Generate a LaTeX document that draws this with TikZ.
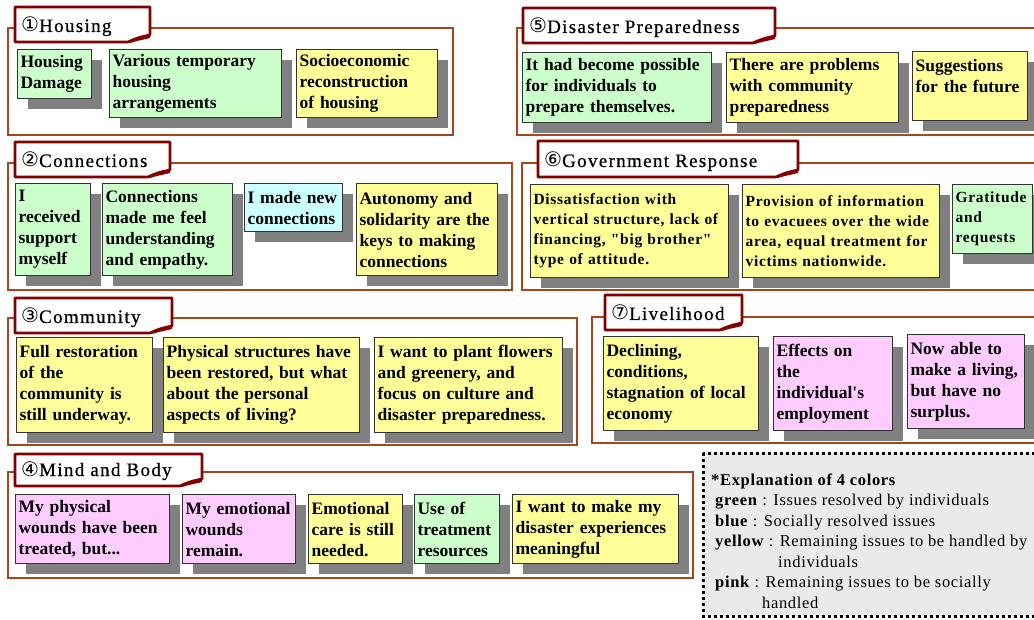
\documentclass[tikz,border=0pt]{standalone}
\usepackage{fontspec}
\setmainfont{Liberation Serif}[Ligatures=TeXOff]
\newfontfamily\symfont{DejaVu Sans}
\usetikzlibrary{shadows}
\definecolor{cgreen}{HTML}{CCFFCC}
\definecolor{cblue}{HTML}{CCFFFF}
\definecolor{cyellow}{HTML}{FFFF99}
\definecolor{cpink}{HTML}{FFCCFF}
\definecolor{framec}{RGB}{168,70,25}
\definecolor{tabc}{RGB}{130,0,0}
\definecolor{shadowc}{RGB}{128,128,128}
\definecolor{legendc}{RGB}{234,234,234}
\tikzset{
  secframe/.style={draw=framec, line width=2pt},
  tabshape/.style={fill=white, draw=tabc, line width=2.6pt, line join=round},
  tabcurl/.style={fill=tabc},
  titletext/.style={font=\fontsize{19}{22}\selectfont\addfontfeature{LetterSpace=7,FakeBold=0.6}, inner sep=0pt, anchor=base west},
  notebox/.style={draw=black!80, line width=1.2pt, anchor=north west, inner xsep=3pt, inner ysep=2pt, align=left,
    font=\fontsize{17.5}{21}\selectfont\bfseries,
    drop shadow={shadow xshift=10pt, shadow yshift=-10pt, fill=shadowc, opacity=1}},
  govnote/.style={font=\fontsize{15.5}{20}\selectfont\bfseries\addfontfeature{LetterSpace=4.5}},
  legendbox/.style={fill=legendc, draw=black, line width=3pt, dash pattern=on 3pt off 3pt},
  legendtext/.style={font=\fontsize{16.5}{20.5}\selectfont\addfontfeature{LetterSpace=4}, inner sep=0pt, anchor=north west, align=left}
}
\newcommand{\notecard}[8][]{%
  \pgfmathsetmacro{\ncW}{#5-#3}%
  \pgfmathsetmacro{\ncH}{#6-#4}%
  \pgfmathsetmacro{\ncT}{#5-#3-6}%
  \node[notebox, fill=#7, minimum width=\ncW pt, minimum height=\ncH pt, text width=\ncT pt, #1] (#2) at (#3,#4) {#8};}
\newcommand{\tabtitle}[7]{%
  \filldraw[tabshape] (#2,#3) -- (#4,#3) -- (#4,#5-7) .. controls (#4-6,#5-6) and (#4-14,#5-4) .. (#4-22,#5) -- (#2,#5) -- cycle;
  \fill[tabcurl] (#4-22,#5) .. controls (#4-16,#5-5) and (#4-8,#5-6) .. (#4,#5-7) -- (#4,#5-4) .. controls (#4-8,#5-2) and (#4-14,#5-1) .. (#4-20,#5+1) -- cycle;
  \node[titletext] (#1) at (#2+6,#5-10) {{\symfont\fontsize{20}{20}\selectfont #6}#7};}
\begin{document}
\begin{tikzpicture}[x=1pt,y=-1pt]
\useasboundingbox (0,0) rectangle (1034,620);
\clip (0,0) rectangle (1034,620);
\fill[white] (0,0) rectangle (1034,620);
% section frames
\draw[secframe] (8,28) rectangle (453,135);
\draw[secframe] (517,28) rectangle (1045,135);
\draw[secframe] (8,163) rectangle (512,290);
\draw[secframe] (522,163) rectangle (1045,290);
\draw[secframe] (8,318) rectangle (577,445);
\draw[secframe] (592,317) rectangle (1045,443);
\draw[secframe] (8,472) rectangle (693,578);
% titles
\tabtitle{t1}{15}{7}{150}{42}{①}{Housing}
\tabtitle{t2}{15}{142}{170}{177}{②}{Connections}
\tabtitle{t3}{15}{298}{172}{333}{③}{Community}
\tabtitle{t4}{15}{454}{202}{486}{④}{Mind and Body}
\tabtitle{t5}{523}{8}{775}{43}{⑤}{Disaster Preparedness}
\tabtitle{t6}{538}{141}{798}{177}{⑥}{Government Response}
\tabtitle{t7}{605}{295}{742}{330}{⑦}{Livelihood}
% 1 Housing
\notecard{h1}{17}{49}{91}{98}{cgreen}{Housing\\Damage}
\notecard{h2}{109}{49}{281}{117}{cgreen}{Various temporary\\housing\\arrangements}
\notecard{h3}{296}{49}{437}{117}{cyellow}{Socioeconomic\\reconstruction\\of housing}
% 2 Connections
\notecard{c1}{15}{183}{90}{275}{cgreen}{I\\received\\support\\myself}
\notecard{c2}{102}{183}{232}{275}{cgreen}{Connections\\made me feel\\understanding\\and empathy.}
\notecard{c3}{244}{183}{342}{231}{cblue}{I made new\\connections}
\notecard{c4}{356}{183}{497}{275}{cyellow}{Autonomy and\\solidarity are the\\keys to making\\connections}
% 3 Community
\notecard{m1}{16}{337}{152}{432}{cyellow}{Full restoration\\of the\\community is\\still underway.}
\notecard{m2}{163}{337}{359}{432}{cyellow}{Physical structures have\\been restored, but what\\about the personal\\aspects of living?}
\notecard{m3}{374}{337}{562}{432}{cyellow}{I want to plant flowers\\and greenery, and\\focus on culture and\\disaster preparedness.}
% 4 Mind and Body
\notecard{b1}{15}{494}{169}{563}{cpink}{My physical\\wounds have been\\treated, but...}
\notecard{b2}{182}{494}{295}{563}{cpink}{My emotional\\wounds\\remain.}
\notecard{b3}{308}{494}{402}{563}{cyellow}{Emotional\\care is still\\needed.}
\notecard{b4}{414}{494}{499}{563}{cgreen}{Use of\\treatment\\resources}
\notecard{b5}{512}{494}{678}{563}{cyellow}{I want to make my\\disaster experiences\\meaningful}
% 5 Disaster Preparedness
\notecard{d1}{522}{52}{711}{122}{cgreen}{It had become possible\\for individuals to\\prepare themselves.}
\notecard{d2}{726}{52}{898}{122}{cyellow}{There are problems\\with community\\preparedness}
\notecard{d3}{912}{51}{1027}{120}{cyellow}{Suggestions\\for the future\\\mbox{}}
% 6 Government Response
\notecard[govnote]{g1}{530}{184}{728}{277}{cyellow}{Dissatisfaction with\\vertical structure, lack of\\financing, "big brother"\\type of attitude.}
\notecard[govnote]{g2}{742}{184}{939}{277}{cyellow}{Provision of information\\to evacuees over the wide\\area, equal treatment for\\victims nationwide.}
\notecard[govnote]{g3}{952}{184}{1032}{253}{cgreen}{Gratitude\\and\\requests}
% 7 Livelihood
\notecard{l1}{603}{336}{758}{430}{cyellow}{Declining,\\conditions,\\stagnation of local\\economy}
\notecard{l2}{773}{336}{892}{430}{cpink}{Effects on\\the\\individual's\\employment}
\notecard{l3}{907}{334}{1024}{428}{cpink}{Now able to\\make a living,\\but have no\\surplus.}
% legend
\draw[legendbox] (703,453) rectangle (1045,616);
\node[legendtext] (lg) at (710,470) {\rule{0pt}{15pt}\hspace*{1pt}\textbf{*Explanation of 4 colors}\\
\hspace*{5pt}\textbf{green} : Issues resolved by individuals\\
\hspace*{5pt}\textbf{blue} : Socially resolved issues\\
\hspace*{5pt}\textbf{yellow} : Remaining issues to be handled by\\
\hspace*{68pt}individuals\\
\hspace*{5pt}\textbf{pink} : Remaining issues to be socially\\
\hspace*{52pt}handled};
\end{tikzpicture}
\end{document}
